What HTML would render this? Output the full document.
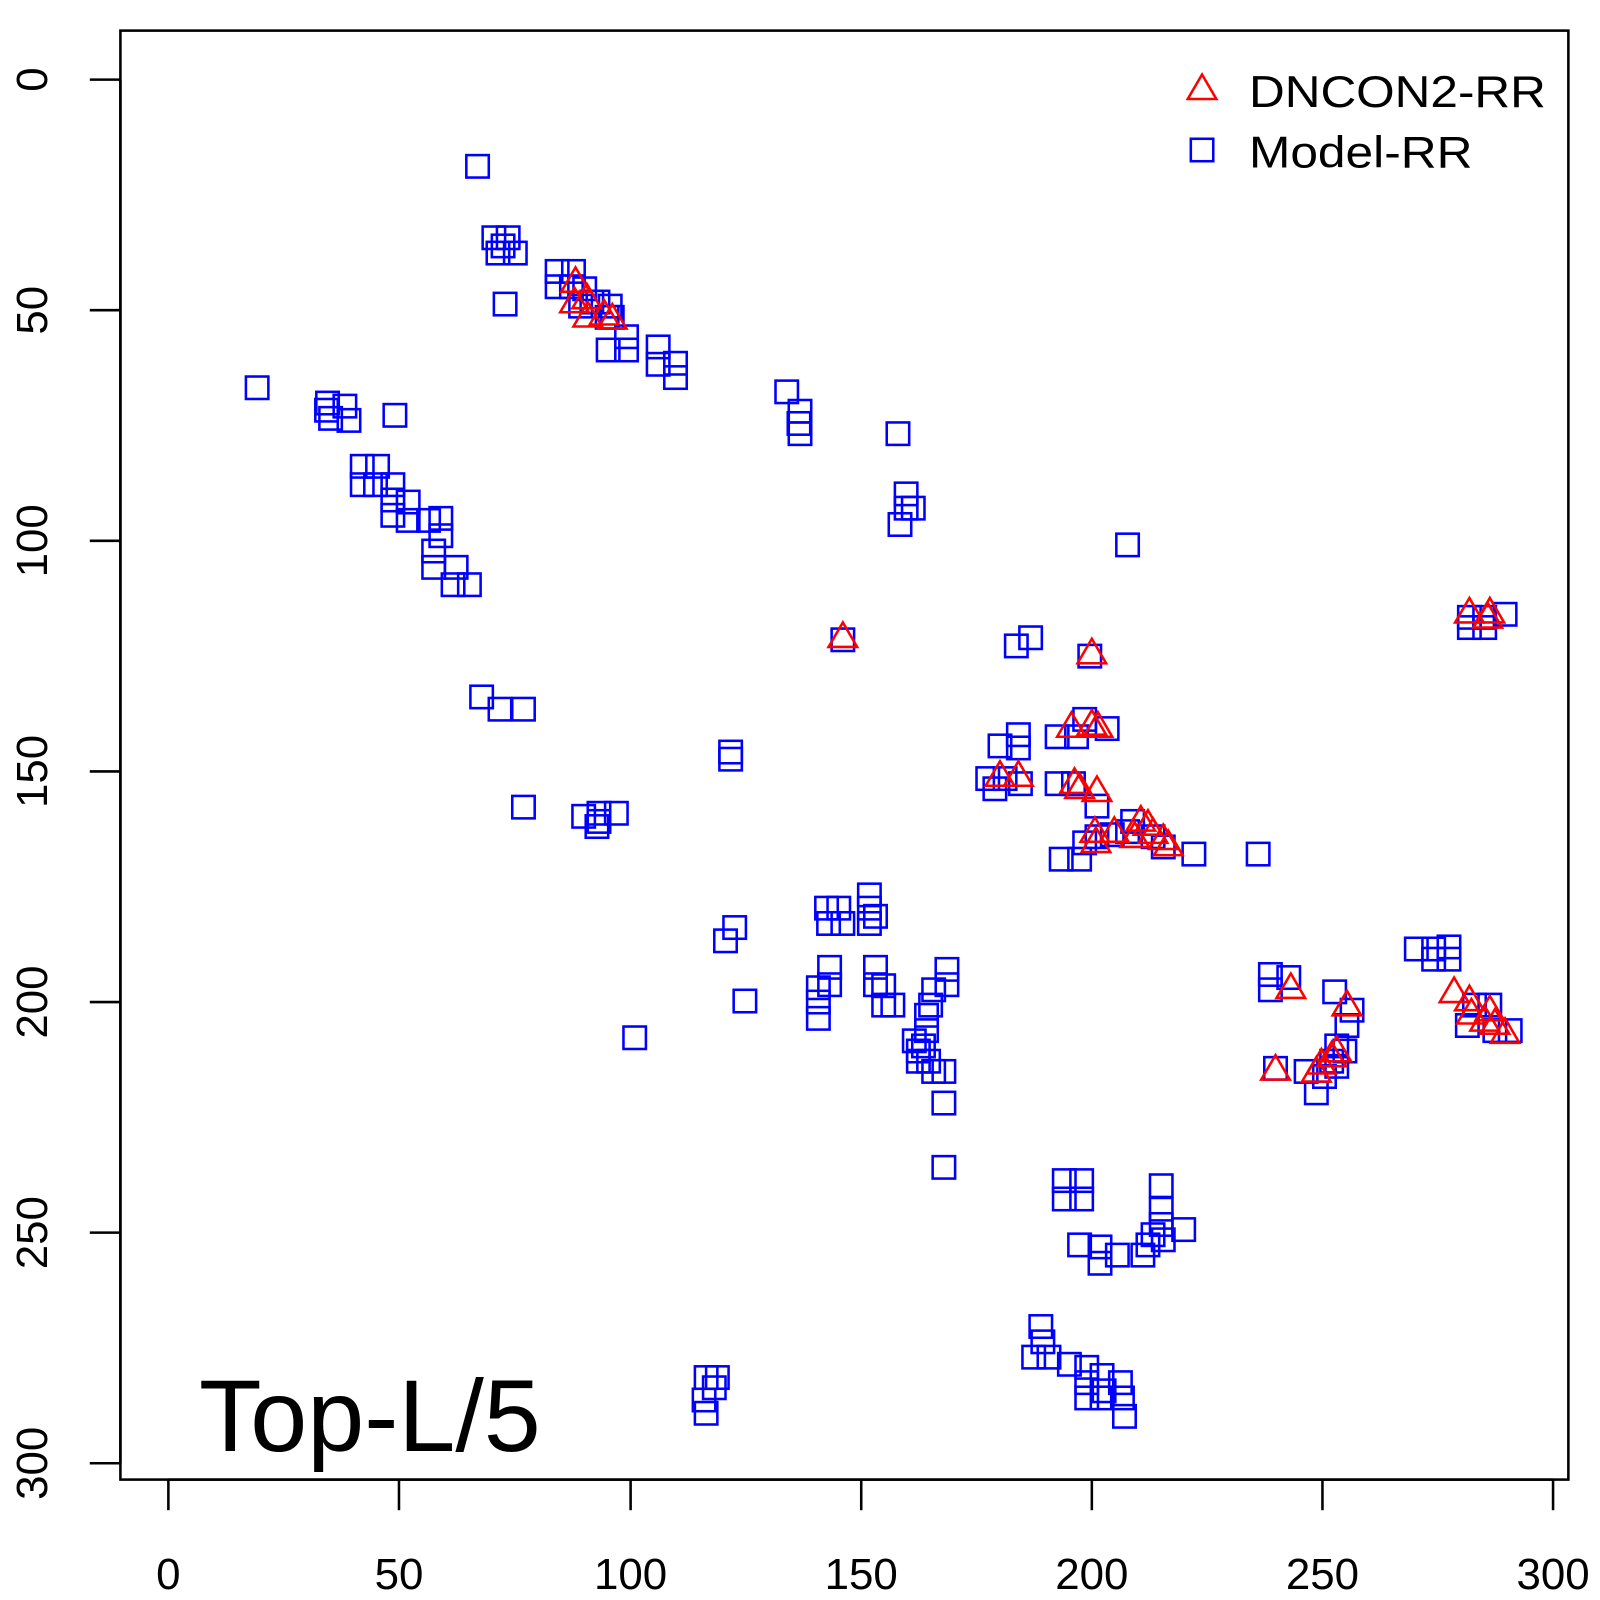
<!DOCTYPE html>
<html><head><meta charset="utf-8"><style>html,body{margin:0;padding:0;background:#fff}svg{display:block}</style></head>
<body>
<svg id="s" width="1600" height="1600" viewBox="0 0 1568 1568" xmlns="http://www.w3.org/2000/svg" font-family="Liberation Sans, sans-serif">
<rect x="0" y="0" width="1568" height="1568" fill="#fff"/>
<rect x="118" y="30" width="1419" height="1420" fill="none" stroke="#000" stroke-width="2.5"/>
<g stroke="#000" stroke-width="2.5">
<line x1="165" y1="1450" x2="1522" y2="1450"/>
<line x1="165" y1="1450" x2="165" y2="1480"/><line x1="391" y1="1450" x2="391" y2="1480"/><line x1="618" y1="1450" x2="618" y2="1480"/><line x1="844" y1="1450" x2="844" y2="1480"/><line x1="1070" y1="1450" x2="1070" y2="1480"/><line x1="1296" y1="1450" x2="1296" y2="1480"/><line x1="1522" y1="1450" x2="1522" y2="1480"/>
<line x1="118" y1="78" x2="118" y2="1434"/>
<line x1="88" y1="78" x2="118" y2="78"/><line x1="88" y1="304" x2="118" y2="304"/><line x1="88" y1="530" x2="118" y2="530"/><line x1="88" y1="756" x2="118" y2="756"/><line x1="88" y1="982" x2="118" y2="982"/><line x1="88" y1="1208" x2="118" y2="1208"/><line x1="88" y1="1434" x2="118" y2="1434"/>
</g>
<g font-size="43" text-anchor="middle" fill="#000">
<text x="165" y="1557">0</text><text x="391" y="1557">50</text><text x="618" y="1557">100</text><text x="844" y="1557">150</text><text x="1070" y="1557">200</text><text x="1296" y="1557">250</text><text x="1522" y="1557">300</text>
<text transform="translate(46,78) rotate(-90)">0</text>
<text transform="translate(46,304) rotate(-90)">50</text>
<text transform="translate(46,530) rotate(-90)">100</text>
<text transform="translate(46,756) rotate(-90)">150</text>
<text transform="translate(46,982) rotate(-90)">200</text>
<text transform="translate(46,1208) rotate(-90)">250</text>
<text transform="translate(46,1434) rotate(-90)">300</text>
</g>
<text x="195" y="1422" font-size="100" fill="#000" textLength="335" lengthAdjust="spacingAndGlyphs">Top-L/5</text>
<text x="1224" y="105" font-size="44" fill="#000" textLength="291" lengthAdjust="spacingAndGlyphs">DNCON2-RR</text>
<text x="1224" y="164" font-size="44" fill="#000" textLength="219" lengthAdjust="spacingAndGlyphs">Model-RR</text>
<g id="sq" fill="none" stroke="#0000ff" stroke-width="2.5"></g>
<g id="tr" fill="none" stroke="#ff0000" stroke-width="2.5"></g>
</svg>
<script>
var S=[[1178,147],[468,163],[484,233],[498,233],[488,248],[505,248],[493,241],[495,298],[546,266],[562,266],[546,281],[560,281],[573,283],[580,296],[595,311],[598,300],[586,296],[569,300],[600,311],[596,343],[614,330],[614,343],[645,340],[645,357],[662,356],[662,370],[252,380],[321,395],[324,410],[338,398],[342,412],[320,402],[387,407],[355,457],[370,457],[355,475],[368,475],[385,475],[385,490],[400,492],[385,505],[400,510],[420,510],[432,508],[432,525],[425,540],[425,556],[447,556],[460,573],[444,573],[472,683],[490,695],[513,695],[513,791],[572,800],[587,797],[587,805],[604,797],[585,810],[771,384],[784,403],[784,425],[783,415],[880,425],[888,484],[888,498],[882,514],[895,498],[1105,534],[716,737],[716,744],[720,909],[711,922],[730,981],[622,1017],[810,890],[822,890],[812,905],[826,905],[852,877],[852,890],[852,905],[858,898],[813,948],[813,965],[802,968],[802,982],[802,998],[858,948],[858,965],[866,985],[875,985],[866,966],[896,1020],[900,1030],[908,1010],[910,1040],[915,1050],[925,1050],[925,1081],[912,985],[915,970],[928,950],[928,965],[908,995],[905,1025],[900,1040],[925,1144],[980,731],[998,720],[1010,625],[996,633],[998,733],[968,763],[985,763],[1000,768],[975,773],[1036,722],[1055,722],[1036,768],[1052,768],[1040,842],[1058,842],[1063,826],[1075,790],[1063,705],[1085,714],[1068,643],[1075,820],[1090,818],[1105,815],[1110,805],[1130,820],[1140,830],[1170,837],[1233,837],[826,627],[1043,1157],[1060,1157],[1043,1175],[1060,1175],[1058,1220],[1078,1222],[1078,1238],[1095,1230],[1120,1230],[1125,1220],[1130,1210],[1140,1215],[1160,1205],[1138,1162],[1138,1185],[1138,1200],[1020,1300],[1022,1315],[1013,1330],[1028,1330],[1048,1337],[1065,1340],[1065,1355],[1065,1370],[1080,1348],[1080,1370],[1098,1355],[1100,1370],[1102,1388],[1082,1363],[692,1350],[700,1360],[703,1350],[692,1385],[690,1372],[1245,955],[1245,970],[1263,958],[1250,1047],[1280,1050],[1290,1071],[1298,1055],[1305,1040],[1310,1025],[1318,1030],[1320,1005],[1308,972],[1325,990],[1310,1045],[1388,930],[1405,930],[1420,928],[1405,940],[1420,940],[1438,1005],[1445,985],[1460,985],[1465,1010],[1480,1010],[1440,605],[1455,605],[1475,602],[1455,615],[1440,615]];
var T=[[1178,87],[564,276],[563,296],[575,292],[576,310],[592,308],[600,312],[826,624],[1070,640],[1050,712],[1070,710],[1076,712],[980,760],[998,760],[1053,767],[1058,772],[1075,775],[1073,815],[1074,825],[1092,815],[1118,804],[1125,808],[1130,816],[1140,822],[1145,828],[1112,820],[1250,1048],[1265,968],[1290,1050],[1295,1042],[1305,1035],[1310,1030],[1320,985],[1425,972],[1440,980],[1442,993],[1455,1000],[1460,990],[1465,1003],[1475,1012],[1440,600],[1460,600],[1458,605]];
var ns="http://www.w3.org/2000/svg",g=document.getElementById("sq"),h=document.getElementById("tr");
S.forEach(function(p){var r=document.createElementNS(ns,"rect");r.setAttribute("x",p[0]-11);r.setAttribute("y",p[1]-11);r.setAttribute("width",22);r.setAttribute("height",22);g.appendChild(r);});
T.forEach(function(p){var r=document.createElementNS(ns,"polygon");var x=p[0],y=p[1];r.setAttribute("points",(x)+","+(y-14)+" "+(x-14)+","+(y+10)+" "+(x+14)+","+(y+10));h.appendChild(r);});
</script>
</body></html>
